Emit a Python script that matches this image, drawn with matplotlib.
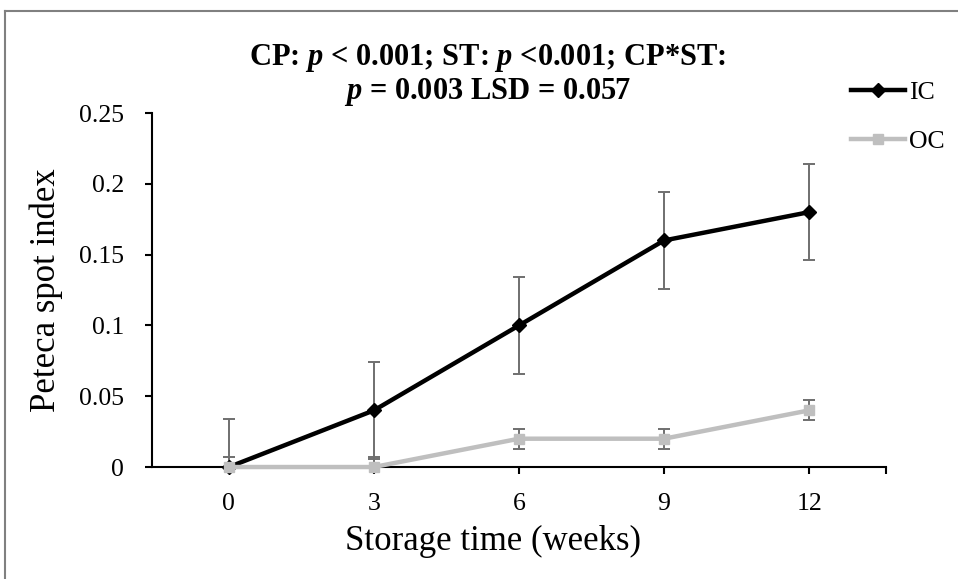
import matplotlib
matplotlib.use('Agg')
import matplotlib.pyplot as plt
from matplotlib.lines import Line2D

# chart data
weeks = ['0', '3', '6', '9', '12']
ic_values = [0.0, 0.04, 0.10, 0.16, 0.18]
oc_values = [0.0, 0.0, 0.02, 0.02, 0.04]
ic_err = [0.034, 0.034, 0.034, 0.034, 0.034]
oc_err = [0.007, 0.007, 0.007, 0.007, 0.007]
y_ticks = [0, 0.05, 0.1, 0.15, 0.2, 0.25]
y_tick_labels = ['0', '0.05', '0.1', '0.15', '0.2', '0.25']

plt.rcParams['font.family'] = ['Liberation Serif', 'DejaVu Serif']
plt.rcParams['mathtext.fontset'] = 'custom'
plt.rcParams['mathtext.rm'] = 'Liberation Serif:bold'
plt.rcParams['mathtext.it'] = 'Liberation Serif:bold:italic'

fig = plt.figure(figsize=(9.58, 5.79), dpi=100)
ax = fig.add_axes([0.1587, 0.1934, 0.7661, 0.6114])

x = list(range(len(weeks)))
err_color = '#6f6f6f'
ic_color = 'black'
oc_color = '#bfbfbf'

# error bars stay clipped at the axis, the lines/markers do not
ax.errorbar(x, ic_values, yerr=ic_err, fmt='none', ecolor=err_color,
            elinewidth=1.4, capsize=4.3, capthick=1.4, zorder=2)
ax.errorbar(x, oc_values, yerr=oc_err, fmt='none', ecolor=err_color,
            elinewidth=1.4, capsize=4.3, capthick=1.4, zorder=2)
ax.plot(x, ic_values, color=ic_color, lw=3.2, marker='D', ms=7,
        clip_on=False, zorder=3, label='IC')
ax.plot(x, oc_values, color=oc_color, lw=3.2, marker='s', ms=6.5,
        clip_on=False, zorder=4, label='OC')

ax.set_xlim(-0.53, 4.53)
ax.set_ylim(0, 0.25)
ax.set_xticks(x)
ax.set_xticklabels(weeks)
ax.set_xticks([4.53], minor=True)
ax.set_yticks(y_ticks)
ax.set_yticklabels(y_tick_labels)
ax.tick_params(axis='both', which='both', direction='out', length=5, width=1.5,
               labelsize=18.5, colors='black')
ax.tick_params(axis='x', pad=14)
ax.tick_params(axis='y', pad=15)

for side in ['top', 'right']:
    ax.spines[side].set_visible(False)
for side in ['left', 'bottom']:
    ax.spines[side].set_linewidth(1.5)

ax.set_xlabel('Storage time (weeks)', fontsize=25, labelpad=2)
ax.xaxis.set_label_coords(0.465, -0.165)
ax.set_ylabel('Peteca spot index', fontsize=25, labelpad=12)

# two-line title
fig.text(0.509, 0.9, r'CP: $p$ < 0.001; ST: $p$ <0.001; CP*ST:',
         ha='center', va='center', fontsize=22, fontweight='bold')
fig.text(0.509, 0.841, r'$p$ = 0.003 LSD = 0.057',
         ha='center', va='center', fontsize=22, fontweight='bold')

handles = [Line2D([], [], color=ic_color, lw=3.2, marker='D', ms=7),
           Line2D([], [], color=oc_color, lw=3.2, marker='s', ms=6.5)]
fig.legend(handles, ['IC', 'OC'], loc='center left', bbox_to_anchor=(0.875, 0.798),
           frameon=False, fontsize=18.5, handlelength=2.1, handletextpad=0.15,
           labelspacing=1.0, borderpad=0)

# outer frame (top and left only)
fig.add_artist(Line2D([0.005, 0.005], [0.0, 0.981], color='#808080', lw=1.5))
fig.add_artist(Line2D([0.005, 1.0], [0.981, 0.981], color='#808080', lw=1.5))

fig.savefig('out.png', dpi=100)
